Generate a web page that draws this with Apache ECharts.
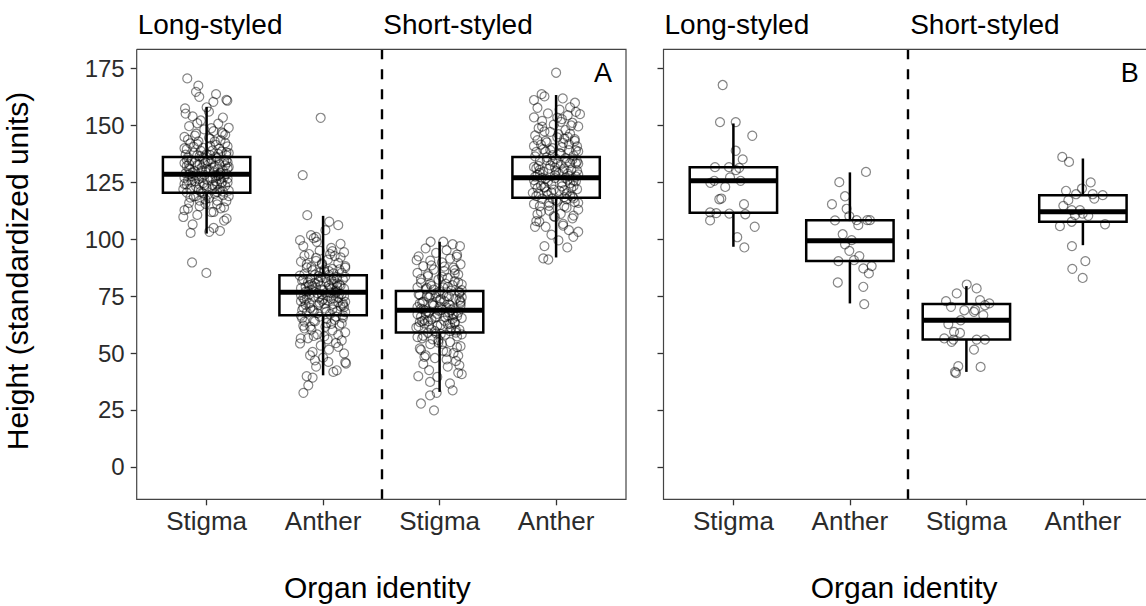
<!DOCTYPE html>
<html>
<head>
<meta charset="utf-8">
<script src="https://cdn.jsdelivr.net/npm/echarts@6/dist/echarts.min.js"></script>
<style>
html,body{margin:0;padding:0;background:#fff;overflow:hidden;}
#chart{width:1146px;height:606px;}
</style>
</head>
<body>
<div id="chart"></div>
<script>
// ---------- data ----------
const xLabels = ['Stigma', 'Anther', 'Stigma', 'Anther'];
const yTicks = [0, 25, 50, 75, 100, 125, 150, 175];
const stripLabels = ['Long-styled', 'Short-styled'];
const panelTags = ['A', 'B'];
const xTitle = 'Organ identity';
const yTitle = 'Height (standardized units)';

// box stats: [lower whisker, Q1, median, Q3, upper whisker]
const boxA = [
  [102.5, 120.5, 128.6, 136.2, 158.2],
  [40.2, 66.6, 76.7, 84.2, 110.3],
  [32.9, 59.0, 68.8, 77.3, 98.9],
  [92.0, 118.2, 127.0, 136.2, 163.4]
];
const boxB = [
  [96.7, 111.6, 125.7, 131.7, 150.9],
  [71.8, 90.5, 99.3, 108.4, 129.4],
  [41.7, 55.9, 64.4, 71.5, 79.4],
  [97.4, 107.7, 112.1, 119.4, 135.5]
];

// jittered points: [jitter offset, height]
const a1 = [[-0.166,170.7],[-0.071,167.5],[-0.091,164.8],[-0.063,162.6],[0.081,163.8],[0.178,160.9],[0.17,161.3],[-0.185,157.5],[0.058,160.4],[-0.2,109.8],[-0.137,102.8],[0.023,103.3],[0.115,103.7],[0.172,109.1],[-0.125,89.8],[-0.002,85.2],
[-0.18,155.2],[-0.12,154.0],[0.02,156.1],[0.14,153.5],[-0.05,152.2],[0.10,150.8],[-0.15,149.7],[0.19,149.0],[-0.02,148.3],[0.06,147.5],[-0.09,146.4],[0.16,145.9],[-0.19,145.0],[0.03,144.2],[0.12,143.6],[-0.07,143.0],[-0.14,142.1],[0.08,141.5],[0.18,140.8],[-0.03,140.2],[-0.17,139.6],[0.05,139.0],[0.13,138.5],[-0.11,138.0],[0.00,137.4],[0.17,136.9],[-0.06,136.5],[-0.16,136.0],[0.09,135.6],[0.04,135.1],[-0.13,134.7],[0.15,134.3],[-0.01,133.9],[-0.19,133.5],[0.11,133.0],[-0.08,132.6],[0.07,132.2],[0.19,131.8],[-0.04,131.4],[-0.15,131.0],[0.02,130.6],[0.14,130.2],[-0.10,129.8],[0.06,129.4],[-0.18,129.0],[0.17,128.7],[-0.02,128.3],[0.10,127.9],[-0.12,127.5],[0.03,127.1],[0.18,126.7],[-0.07,126.3],[-0.16,125.9],[0.08,125.5],[0.13,125.1],[-0.03,124.7],[-0.19,124.3],[0.05,123.9],[0.16,123.5],[-0.09,123.1],[0.00,122.7],[-0.14,122.2],[0.11,121.8],[0.19,121.4],[-0.05,121.0],[-0.17,120.5],[0.07,120.0],[0.14,119.4],[-0.11,118.8],[0.02,118.1],[-0.01,117.5],[0.17,116.8],[-0.15,116.0],[0.09,115.3],[-0.06,114.5],[0.12,113.6],[-0.19,112.8],[0.04,111.9],[-0.08,110.7],[0.15,108.2],[-0.12,106.5],[0.06,105.0],[-0.04,130.0],[0.08,128.0],[-0.10,134.0],[0.01,126.0],[0.16,132.5],[-0.13,127.8],[0.10,137.5],[-0.06,124.0],[0.18,125.0],[-0.17,135.0],[0.03,141.0],[-0.09,119.0],[0.12,129.0],[-0.02,133.0],[0.05,122.0],[-0.15,128.5],[0.14,146.5],[-0.08,151.0],[0.00,158.0],[0.09,117.0],
[-0.19,127.0],[0.18,131.2],[-0.03,135.8],[0.07,123.3],[-0.11,140.6],[0.15,127.4],[0.01,119.6],[-0.17,132.2],[0.11,139.8],[-0.07,121.7],[0.04,133.6],[-0.13,125.2],[0.19,137.9],[-0.01,129.6],[0.09,120.8],[-0.16,143.8],[0.13,124.6],[-0.05,138.8],[0.06,131.6],[-0.2,122.0],[0.17,134.8],[-0.09,128.1],[0.02,144.6],[-0.14,118.3],[0.12,126.4],[-0.04,127.0],[0.08,136.2],[-0.18,137.2],[0.14,121.0],[0.00,131.0],[-0.1,145.5],[0.16,142.3],[-0.06,117.0],[0.05,126.8],[-0.15,133.0],[0.1,130.8],[-0.02,123.8],[0.19,119.0],[-0.12,129.2],[0.03,137.0],[-0.08,141.8],[0.15,114.0],[-0.17,124.0],[0.07,143.0],[-0.03,120.2],[0.11,128.4],[-0.19,140.0],[0.01,134.4],[-0.1,125.6],[0.17,138.2],[-0.06,132.8],[0.09,124.2],[-0.14,130.6],[0.13,147.0],[-0.01,115.6],[0.04,148.8],[-0.16,113.5],[0.18,133.8],[-0.08,136.9],[0.06,112.0]];

const a2 = [[-0.021,153.4],[-0.175,128.2],[-0.136,110.6],[0.053,107.7],[0.13,106.2],[-0.104,101.8],[-0.198,99.6],[-0.055,98.9],[-0.169,32.5],[-0.127,35.8],[-0.141,39.8],[-0.09,39.2],[0.088,41.7],[0.117,42.4],[0.197,45.4],[0.19,45.9],[-0.112,49.0],[-0.07,46.8],[-0.198,54.2],[-0.192,56.4],[0.045,46.1],[0.13,52.7],
[0.02,104.0],[-0.08,100.5],[0.15,98.0],[-0.17,97.0],[0.07,96.2],[-0.03,95.0],[0.18,94.3],[-0.12,93.5],[0.10,92.6],[-0.06,91.8],[0.04,91.0],[-0.19,90.2],[0.13,89.6],[-0.01,88.9],[0.19,88.2],[-0.14,87.6],[0.08,87.0],[-0.09,86.4],[0.01,85.8],[0.16,85.3],[-0.16,84.8],[0.05,84.3],[-0.04,83.8],[0.12,83.3],[-0.11,82.8],[0.17,82.3],[-0.18,81.8],[0.03,81.3],[-0.07,80.8],[0.09,80.4],[0.14,80.0],[-0.02,79.5],[-0.15,79.1],[0.06,78.7],[0.18,78.3],[-0.10,77.9],[0.00,77.5],[-0.13,77.1],[0.11,76.7],[-0.05,76.3],[0.16,75.9],[-0.19,75.5],[0.04,75.1],[-0.08,74.7],[0.13,74.3],[0.07,73.8],[-0.16,73.4],[-0.01,73.0],[0.19,72.5],[-0.12,72.0],[0.09,71.5],[-0.04,71.0],[0.15,70.5],[-0.17,70.0],[0.02,69.5],[-0.09,69.0],[0.12,68.4],[-0.14,67.8],[0.06,67.2],[0.17,66.6],[-0.03,66.0],[-0.18,65.3],[0.10,64.6],[-0.07,63.9],[0.03,63.2],[0.14,62.4],[-0.11,61.6],[-0.16,60.8],[0.08,60.0],[0.19,59.1],[-0.05,58.2],[0.01,57.3],[-0.13,56.5],[0.16,55.5],[0.11,54.4],[-0.02,53.3],[0.05,51.5],[-0.09,50.5],[0.18,49.8],[0.00,48.0],[-0.06,44.0],[0.07,78.0],[-0.12,79.8],[0.14,76.0],[-0.04,81.5],[0.09,74.0],[-0.15,77.0],[0.02,83.0],[0.17,71.8],[-0.08,68.5],[0.05,86.0],[-0.19,72.8],[0.12,79.0],[-0.01,75.8],[0.19,83.5],[-0.10,88.0],[0.03,65.0],[-0.17,62.0],[0.08,94.8],[-0.06,101.0],
[-0.19,78.5],[0.18,75.0],[-0.03,72.2],[0.07,82.0],[-0.11,69.8],[0.15,79.6],[0.01,86.6],[-0.17,74.2],[0.11,66.0],[-0.07,84.4],[0.04,73.0],[-0.13,81.0],[0.19,68.0],[-0.01,77.8],[0.09,85.0],[-0.16,63.8],[0.13,72.4],[-0.05,67.5],[0.06,76.5],[-0.2,84.0],[0.17,71.0],[-0.09,79.4],[0.02,61.5],[-0.14,89.0],[0.12,80.6],[-0.04,74.4],[0.08,69.2],[-0.18,68.8],[0.14,86.8],[0.00,73.6],[-0.1,60.3],[0.16,63.0],[-0.06,90.5],[0.05,79.8],[-0.15,71.2],[0.1,76.2],[-0.02,83.2],[0.19,87.5],[-0.12,75.6],[0.03,68.2],[-0.08,64.2],[0.15,92.0],[-0.17,82.4],[0.07,62.8],[-0.03,85.4],[0.11,77.4],[-0.19,66.4],[0.01,71.6],[-0.1,80.2],[0.17,65.6],[-0.06,78.8],[0.09,82.6],[-0.14,74.0],[0.13,58.0],[-0.01,89.4],[0.04,56.0],[-0.16,92.8],[0.18,70.2],[-0.08,57.5],[0.06,93.5]];

const a3 = [[-0.077,98.9],[0.112,97.8],[0.032,98.9],[0.175,97.0],[-0.197,90.8],[0.147,92.3],[-0.16,27.8],[-0.048,24.8],[-0.082,31.4],[-0.025,32.5],[0.112,33.6],[0.089,36.6],[0.19,40.7],[-0.183,39.8],[-0.082,37.3],
[-0.12,96.0],[0.06,95.2],[-0.03,94.0],[0.15,93.2],[-0.18,92.5],[0.09,91.5],[-0.08,90.6],[0.02,89.8],[0.18,89.0],[-0.14,88.2],[0.12,87.5],[-0.05,86.7],[0.04,86.0],[-0.19,85.2],[0.16,84.5],[-0.10,83.8],[0.07,83.0],[-0.01,82.3],[0.13,81.6],[-0.16,80.9],[0.19,80.2],[-0.07,79.5],[0.03,78.8],[-0.12,78.1],[0.10,77.4],[0.17,76.8],[-0.03,76.2],[-0.17,75.6],[0.06,75.0],[-0.09,74.4],[0.14,73.8],[0.00,73.2],[-0.14,72.6],[0.18,72.0],[0.08,71.4],[-0.05,70.8],[-0.19,70.2],[0.12,69.6],[0.02,69.0],[-0.11,68.4],[0.16,67.8],[-0.02,67.2],[0.07,66.6],[-0.16,66.0],[0.19,65.4],[-0.07,64.8],[0.04,64.2],[0.13,63.6],[-0.13,63.0],[0.01,62.4],[-0.18,61.7],[0.10,61.0],[0.17,60.3],[-0.04,59.6],[-0.10,58.9],[0.05,58.1],[0.15,57.3],[-0.15,56.5],[-0.01,55.7],[0.09,54.8],[-0.08,53.9],[0.18,53.0],[-0.17,52.0],[0.03,51.0],[0.12,50.0],[-0.12,49.0],[-0.04,47.8],[0.14,46.5],[-0.14,45.2],[0.07,44.0],[-0.09,42.5],[0.16,41.3],[-0.02,39.5],[0.16,48.8],[0.17,44.6],[-0.13,48.3],[0.08,68.0],[-0.06,72.0],[0.11,65.0],[-0.16,69.5],[0.00,77.0],[0.14,59.0],[-0.09,62.0],[0.05,80.5],[-0.19,57.0],[0.19,74.5],[-0.03,66.0],[0.09,71.0],[-0.11,75.0],[0.02,54.0],[0.13,85.0],[-0.07,88.5],[0.06,50.5],[-0.15,64.0],
[-0.19,67.0],[0.18,70.8],[-0.03,74.6],[0.07,62.6],[-0.11,78.6],[0.15,66.2],[0.01,58.4],[-0.17,71.8],[0.11,79.8],[-0.07,60.4],[0.04,72.8],[-0.13,64.4],[0.19,77.6],[-0.01,68.6],[0.09,59.6],[-0.16,82.6],[0.13,63.2],[-0.05,77.8],[0.06,70.0],[-0.2,61.2],[0.17,73.4],[-0.09,67.8],[0.02,83.6],[-0.14,57.6],[0.12,66.8],[-0.04,65.6],[0.08,74.8],[-0.18,75.8],[0.14,60.0],[0.00,70.4],[-0.1,84.6],[0.16,81.0],[-0.06,56.0],[0.05,65.8],[-0.15,72.2],[0.1,69.0],[-0.02,62.0],[0.19,58.2],[-0.12,67.4],[0.03,76.0],[-0.08,80.4],[0.15,52.6],[-0.17,63.6],[0.07,79.0],[-0.03,58.6],[0.11,67.2],[-0.19,78.8],[0.01,73.8],[-0.1,64.0],[0.17,76.4],[-0.06,71.4],[0.09,62.8],[-0.14,69.2],[0.13,86.5],[-0.01,54.6],[0.04,88.0],[-0.16,51.4],[0.18,72.6],[-0.08,75.4],[0.06,47.2]];

const a4 = [[0.0,173.2],[-0.124,163.8],[0.057,161.9],[0.162,160.0],[-0.19,161.2],[0.205,155.0],[-0.11,91.6],[-0.067,91.1],[0.096,96.4],[0.148,101.1],[0.19,103.3],[-0.181,105.5],[-0.144,107.7],[-0.1,162.8],[0.12,158.0],
[-0.16,157.8],[0.03,157.0],[0.17,156.0],[-0.07,155.3],[0.10,154.5],[-0.19,153.6],[0.05,152.8],[-0.12,152.0],[0.14,151.2],[-0.02,150.4],[0.19,149.6],[-0.15,148.8],[0.08,148.0],[-0.05,147.2],[0.12,146.4],[-0.18,145.6],[0.01,144.8],[0.16,144.0],[-0.09,143.2],[0.06,142.4],[-0.13,141.6],[0.18,140.8],[-0.03,140.0],[0.11,139.2],[-0.17,138.4],[0.04,137.6],[0.15,136.8],[-0.08,136.0],[0.00,135.3],[-0.14,134.6],[0.09,133.9],[0.19,133.2],[-0.05,132.5],[-0.19,131.8],[0.07,131.1],[0.13,130.4],[-0.11,129.7],[0.02,129.0],[-0.16,128.3],[0.17,127.6],[-0.01,126.9],[0.10,126.2],[-0.07,125.5],[0.05,124.8],[-0.18,124.1],[0.15,123.4],[-0.10,122.7],[0.18,122.0],[0.03,121.3],[-0.04,120.6],[-0.15,119.9],[0.12,119.2],[0.07,118.5],[-0.12,117.8],[0.00,117.1],[0.16,116.3],[-0.19,115.5],[-0.06,114.7],[0.09,113.9],[0.19,113.0],[-0.13,112.1],[0.04,111.2],[-0.02,110.2],[0.14,109.2],[-0.17,108.0],[0.06,106.8],[-0.09,105.5],[0.11,104.0],[-0.04,102.0],[0.02,99.5],[-0.10,97.0],[0.08,127.0],[-0.14,130.5],[0.17,125.5],[-0.03,137.0],[0.12,133.5],[-0.08,121.0],[0.05,140.5],[-0.18,127.5],[0.15,118.0],[-0.01,131.5],[0.10,145.0],[-0.12,149.5],[0.19,128.5],[-0.06,116.0],[0.01,153.5],[-0.16,122.5],[0.14,135.0],[-0.09,138.5],[0.07,114.5],
[-0.19,126.0],[0.18,130.2],[-0.03,134.0],[0.07,121.6],[-0.11,139.6],[0.15,125.8],[0.01,116.6],[-0.17,131.2],[0.11,141.8],[-0.07,119.4],[0.04,132.8],[-0.13,123.6],[0.19,138.6],[-0.01,128.2],[0.09,117.6],[-0.16,143.6],[0.13,122.4],[-0.05,139.2],[0.06,129.8],[-0.2,120.4],[0.17,133.4],[-0.09,126.6],[0.02,146.2],[-0.14,114.6],[0.12,124.6],[-0.04,124.0],[0.08,135.6],[-0.18,136.4],[0.14,118.8],[0.00,130.0],[-0.1,147.4],[0.16,143.2],[-0.06,112.6],[0.05,123.2],[-0.15,132.2],[0.1,128.8],[-0.02,121.8],[0.19,116.0],[-0.12,127.0],[0.03,137.8],[-0.08,142.6],[0.15,110.4],[-0.17,119.0],[0.07,144.2],[-0.03,117.8],[0.11,127.8],[-0.19,141.0],[0.01,133.2],[-0.1,123.0],[0.17,139.0],[-0.06,131.0],[0.09,120.2],[-0.14,129.2],[0.13,150.0],[-0.01,109.8],[0.04,151.6],[-0.16,111.0],[0.18,134.2],[-0.08,134.8],[0.06,106.0]];

const b1 = [[-0.092,167.8],[-0.115,151.5],[0.02,151.5],[0.162,145.5],[0.02,138.9],[0.08,135.1],[-0.158,131.7],[-0.038,131.7],[0.05,131.4],[0.022,130.4],[-0.029,127.2],[-0.198,124.8],[-0.164,125.7],[-0.07,123.0],[0.062,125.7],[-0.121,117.6],[-0.104,117.9],[0.091,115.4],[-0.2,111.8],[-0.147,111.5],[-0.035,111.3],[0.102,111.0],[-0.2,108.3],[0.183,105.5],[0.033,100.9],[0.094,96.4]];
const b2 = [[0.138,129.6],[-0.091,125.1],[-0.042,118.9],[-0.154,115.4],[-0.028,113.4],[-0.005,110.2],[-0.128,108.3],[0.058,108.4],[0.072,106.2],[0.172,108.4],[0.149,108.4],[-0.062,102.2],[0.015,99.6],[-0.042,97.8],[-0.005,94.9],[0.081,92.6],[-0.099,90.4],[0.035,90.8],[0.115,87.2],[0.187,88.2],[0.163,85.0],[-0.104,81.0],[0.115,79.1],[0.123,71.5]];
const b3 = [[0.003,80.1],[0.088,78.4],[-0.083,76.2],[-0.175,72.8],[0.117,73.2],[0.197,71.8],[0.159,71.0],[-0.132,70.3],[-0.018,68.8],[0.065,68.1],[0.075,68.9],[0.145,66.6],[-0.049,64.4],[-0.155,62.7],[-0.106,59.3],[-0.055,58.8],[-0.19,56.4],[-0.127,54.9],[-0.112,55.9],[0.088,55.9],[0.159,55.9],[0.065,51.5],[0.122,43.9],[-0.07,44.2],[-0.098,41.7],[-0.089,41.2]];
const b4 = [[-0.177,136.2],[-0.119,134.0],[0.067,125.0],[-0.008,122.3],[-0.145,121.3],[-0.059,119.8],[0.084,119.8],[0.17,119.4],[0.098,117.9],[-0.168,114.7],[-0.125,117.2],[-0.096,112.8],[-0.025,112.8],[-0.002,111.3],[0.046,110.3],[-0.068,110.6],[-0.096,107.7],[-0.197,105.8],[0.19,106.6],[-0.094,97.0],[0.021,90.4],[-0.091,87.0],[-0.002,83.0]];

const panelA = [a1, a2, a3, a4];
const panelB = [b1, b2, b3, b4];

// ---------- chart ----------
const FONT = 'Liberation Sans, Arial, Helvetica, sans-serif';
const chart = echarts.init(document.getElementById('chart'), null, {renderer: 'svg', width: 1146, height: 606});

function toPoints(groups) {
  const out = [];
  groups.forEach((g, i) => g.forEach(p => out.push([i + 1 + p[0], p[1]])));
  return out;
}

function renderBox(params, api) {
  const x = api.value(0);
  const lo = api.coord([x, api.value(1)]);
  const q1 = api.coord([x, api.value(2)]);
  const md = api.coord([x, api.value(3)]);
  const q3 = api.coord([x, api.value(4)]);
  const hi = api.coord([x, api.value(5)]);
  const xl = api.coord([x - 0.375, 0])[0];
  const xr = api.coord([x + 0.375, 0])[0];
  const ls = {stroke: '#000', lineWidth: 2.5};
  return {
    type: 'group',
    children: [
      {type: 'line', shape: {x1: lo[0], y1: lo[1], x2: q1[0], y2: q1[1]}, style: ls},
      {type: 'line', shape: {x1: q3[0], y1: q3[1], x2: hi[0], y2: hi[1]}, style: ls},
      {type: 'rect', shape: {x: xl, y: q3[1], width: xr - xl, height: q1[1] - q3[1]},
        style: {stroke: '#000', lineWidth: 2.5, fill: 'rgba(255,255,255,0)'}},
      {type: 'line', shape: {x1: xl, y1: md[1], x2: xr, y2: md[1]}, style: {stroke: '#000', lineWidth: 5}}
    ]
  };
}

const gridW = 489.3, gridH = 450, gridTop = 49.3;
const gridLefts = [136.7, 663.5];

function xAxisDef(i) {
  return {
    gridIndex: i, type: 'value', min: 0.4, max: 4.6,
    splitLine: {show: false},
    axisLine: {show: false, onZero: false},
    axisTick: {show: true, customValues: [1, 2, 3, 4], length: 6, lineStyle: {color: '#333', width: 1.3}},
    axisLabel: {show: true, customValues: [1, 2, 3, 4], formatter: v => xLabels[Math.round(v) - 1],
      fontSize: 26, fontFamily: FONT, color: '#2b2b2b', margin: 9}
  };
}
function yAxisDef(i) {
  return {
    gridIndex: i, type: 'value', min: -14.3, max: 183.5, position: 'left',
    splitLine: {show: false},
    axisLine: {show: false, onZero: false},
    axisTick: {show: true, customValues: yTicks, length: 6, lineStyle: {color: '#333', width: 1.3}},
    axisLabel: {show: i === 0, customValues: yTicks, fontSize: 24, fontFamily: FONT, color: '#2b2b2b', margin: 12}
  };
}

const series = [];
[boxA, boxB].forEach((box, i) => {
  series.push({
    type: 'custom', xAxisIndex: i, yAxisIndex: i, z: 2, clip: false,
    renderItem: renderBox,
    encode: {x: 0, y: [1, 2, 3, 4, 5]},
    data: box.map((b, k) => [k + 1].concat(b))
  });
});
[panelA, panelB].forEach((groups, i) => {
  series.push({
    type: 'scatter', xAxisIndex: i, yAxisIndex: i, z: 3, clip: false,
    symbol: 'circle', symbolSize: 9,
    itemStyle: {color: 'rgba(0,0,0,0)', borderColor: 'rgba(0,0,0,0.6)', borderWidth: 1.2},
    data: toPoints(groups),
    markLine: {
      silent: true, symbol: ['none', 'none'], label: {show: false},
      lineStyle: {type: [10, 10], color: '#000', width: 2.4},
      data: [{xAxis: 2.5}]
    }
  });
});

const textStyle = (t, x, y, size, align, extra) => Object.assign({
  type: 'text', x: x, y: y,
  style: {text: t, fontSize: size, fontFamily: FONT, fill: '#000',
    align: align, verticalAlign: 'middle', textAlign: align, textVerticalAlign: 'middle'}
}, extra || {});

const graphics = [];
gridLefts.forEach((L, i) => {
  const R = L + gridW, B = gridTop + gridH;
  // panel border (panel B runs past the right edge of the image)
  const pts = i === 0
    ? [[L, gridTop], [R, gridTop], [R, B], [L, B], [L, gridTop]]
    : [[R, gridTop], [L, gridTop], [L, B], [R, B]];
  graphics.push({type: 'polyline', z: 10, silent: true,
    shape: {points: pts},
    style: {fill: 'none', stroke: '#444', lineWidth: 1.2}});
  graphics.push(textStyle(stripLabels[0], L + 1, 24, 28, 'left'));
  graphics.push(textStyle(stripLabels[1], L + gridW / 2 + 2, 24, 28, 'left'));
  graphics.push(textStyle(panelTags[i], L + gridW - 23, 72.5, 27, 'center'));
  graphics.push(textStyle(xTitle, L + gridW / 2 - 4, 587, 30, 'center'));
});
graphics.push(textStyle(yTitle, 17.5, 271, 30, 'center', {rotation: Math.PI / 2}));

chart.setOption({
  animation: false,
  backgroundColor: '#fff',
  grid: gridLefts.map(L => ({left: L, top: gridTop, width: gridW, height: gridH, show: false,
    containLabel: false, outerBoundsMode: 'none'})),
  xAxis: [xAxisDef(0), xAxisDef(1)],
  yAxis: [yAxisDef(0), yAxisDef(1)],
  series: series,
  graphic: graphics
});
</script>
</body>
</html>
